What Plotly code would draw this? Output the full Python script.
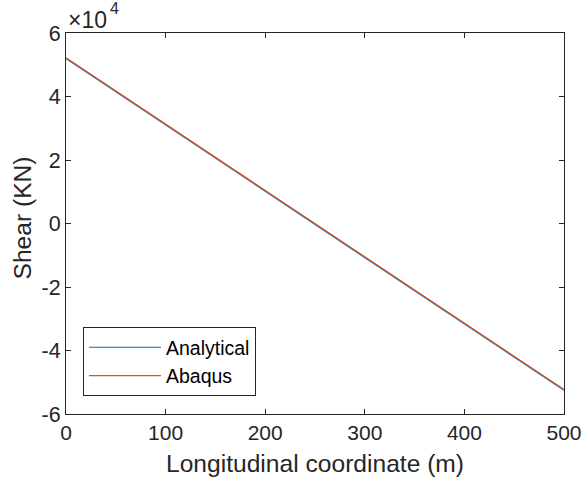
import plotly.graph_objects as go

x_coord = [0, 100, 200, 300, 400, 500]
shear_analytical = [51950, 31050, 10150, -10750, -31650, -52550]
shear_abaqus = [52200, 31300, 10400, -10500, -31400, -52300]
x_ticks = [0, 100, 200, 300, 400, 500]
y_ticks = [-60000, -40000, -20000, 0, 20000, 40000, 60000]
y_tick_labels = ["-6", "-4", "-2", "0", "2", "4", "6"]
exponent_base = "×10"
exponent_power = "4"

FONT = "Liberation Sans, Arial, sans-serif"
AX = "#262626"

fig = go.Figure()
fig.add_trace(go.Scatter(x=x_coord, y=shear_analytical, mode="lines", name="Analytical",
                         line=dict(color="#0072BD", width=1.2)))
fig.add_trace(go.Scatter(x=x_coord, y=shear_abaqus, mode="lines", name="Abaqus",
                         line=dict(color="#D95319", width=1.3)))

fig.update_layout(
    width=584, height=482,
    margin=dict(l=66, r=20, t=33, b=68),
    paper_bgcolor="white", plot_bgcolor="white",
    font=dict(family=FONT, color=AX, size=21),
    showlegend=True,
    legend=dict(x=0.034, y=0.047, xanchor="left", yanchor="bottom",
                bgcolor="white", bordercolor=AX, borderwidth=1,
                font=dict(size=19.5, color="black"), itemwidth=72,
                tracegroupgap=0),
    xaxis=dict(range=[0, 500], tickvals=x_ticks, ticks="inside", ticklen=5,
               tickcolor=AX, showline=True, linecolor=AX, linewidth=1, mirror="ticks",
               showgrid=False, zeroline=False, automargin=False,
               tickfont=dict(size=21, color=AX)),
    yaxis=dict(range=[-60000, 60000], tickvals=y_ticks, ticktext=y_tick_labels,
               ticks="inside", ticklen=5, tickcolor=AX, showline=True, linecolor=AX,
               linewidth=1, mirror="ticks", showgrid=False, zeroline=False, automargin=False,
               tickfont=dict(size=21.5, color=AX)),
    annotations=[
        dict(x=0, y=1, xref="paper", yref="paper", xanchor="left", yanchor="middle",
             text=exponent_base, showarrow=False, font=dict(size=23, color=AX),
             xshift=0, yshift=13),
        dict(x=0, y=1, xref="paper", yref="paper", xanchor="left", yanchor="middle",
             text=exponent_power, showarrow=False, font=dict(size=16, color=AX),
             xshift=42, yshift=25),
        dict(x=0.5, y=0, xref="paper", yref="paper", xanchor="center", yanchor="middle",
             text="Longitudinal coordinate (m)", showarrow=False,
             font=dict(size=24.6, color=AX), yshift=-49),
        dict(x=0, y=0.5, xref="paper", yref="paper", xanchor="center", yanchor="middle",
             text="Shear (KN)", showarrow=False, textangle=-90,
             font=dict(size=24.6, color=AX), xshift=-44, yshift=5),
    ],
)

fig.write_html("out.html")
